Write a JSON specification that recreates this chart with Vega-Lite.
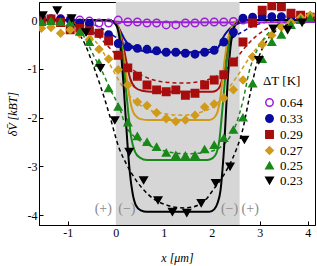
{
  "$schema": "https://vega.github.io/schema/vega-lite/v6.json",
  "width": 276,
  "height": 223,
  "autosize": {"type": "none"},
  "padding": {"left": 39, "top": 2, "right": 2, "bottom": 41},
  "background": "white",
  "config": {
    "view": {"stroke": "black", "strokeWidth": 1},
    "font": "Liberation Serif",
    "axis": {"grid": false, "domainColor": "black", "tickColor": "black", "labelColor": "black", "titleColor": "black", "labelFont": "Liberation Serif", "titleFont": "Liberation Serif", "labelFontSize": 12, "titleFontSize": 12, "titleFontWeight": "normal", "tickSize": -4, "labelPadding": 6},
    "legend": {"labelFont": "Liberation Serif", "titleFont": "Liberation Serif", "labelFontSize": 13, "titleFontSize": 13, "titleFontWeight": "normal", "labelColor": "black", "titleColor": "black"}
  },
  "datasets": {
    "band": [{"x0": 0, "x1": 2.58}],
    "pts": [
      {"s":"0.64","x":-1.15,"y":0.03},{"s":"0.64","x":-0.95,"y":0.02},{"s":"0.64","x":-0.75,"y":0.0},{"s":"0.64","x":-0.55,"y":-0.02},{"s":"0.64","x":-0.35,"y":-0.06},{"s":"0.64","x":-0.15,"y":-0.06},{"s":"0.64","x":0.05,"y":0.0},{"s":"0.64","x":0.25,"y":-0.04},{"s":"0.64","x":0.45,"y":-0.04},{"s":"0.64","x":0.65,"y":-0.06},{"s":"0.64","x":0.85,"y":-0.06},{"s":"0.64","x":1.05,"y":-0.1},{"s":"0.64","x":1.25,"y":-0.1},{"s":"0.64","x":1.45,"y":-0.06},{"s":"0.64","x":1.65,"y":-0.06},{"s":"0.64","x":1.85,"y":-0.04},{"s":"0.64","x":2.05,"y":-0.04},{"s":"0.64","x":2.25,"y":-0.04},{"s":"0.64","x":2.45,"y":-0.03},{"s":"0.64","x":2.65,"y":0.0},
      {"s":"0.33","x":-1.55,"y":0.05},{"s":"0.33","x":-1.35,"y":0.03},{"s":"0.33","x":-1.15,"y":0.02},{"s":"0.33","x":-0.95,"y":0.0},{"s":"0.33","x":-0.75,"y":-0.06},{"s":"0.33","x":-0.55,"y":-0.08},{"s":"0.33","x":-0.35,"y":-0.27},{"s":"0.33","x":-0.15,"y":-0.3},{"s":"0.33","x":0.05,"y":-0.48},{"s":"0.33","x":0.25,"y":-0.55},{"s":"0.33","x":0.45,"y":-0.58},{"s":"0.33","x":0.65,"y":-0.6},{"s":"0.33","x":0.85,"y":-0.63},{"s":"0.33","x":1.05,"y":-0.66},{"s":"0.33","x":1.25,"y":-0.66},{"s":"0.33","x":1.45,"y":-0.68},{"s":"0.33","x":1.65,"y":-0.7},{"s":"0.33","x":1.85,"y":-0.66},{"s":"0.33","x":2.05,"y":-0.62},{"s":"0.33","x":2.25,"y":-0.45},{"s":"0.33","x":2.45,"y":-0.25},{"s":"0.33","x":2.65,"y":0.04},{"s":"0.33","x":2.85,"y":0.06},{"s":"0.33","x":3.05,"y":0.07},{"s":"0.33","x":3.25,"y":0.07},{"s":"0.33","x":3.45,"y":0.07},{"s":"0.33","x":3.65,"y":0.06},{"s":"0.33","x":3.85,"y":0.05},{"s":"0.33","x":4.05,"y":0.05},
      {"s":"0.29","x":-1.55,"y":-0.02},{"s":"0.29","x":-1.35,"y":0.02},{"s":"0.29","x":-1.15,"y":-0.05},{"s":"0.29","x":-0.95,"y":-0.2},{"s":"0.29","x":-0.75,"y":-0.17},{"s":"0.29","x":-0.55,"y":-0.22},{"s":"0.29","x":-0.35,"y":-0.27},{"s":"0.29","x":-0.15,"y":-0.43},{"s":"0.29","x":0.05,"y":-0.72},{"s":"0.29","x":0.25,"y":-0.98},{"s":"0.29","x":0.45,"y":-1.15},{"s":"0.29","x":0.65,"y":-1.33},{"s":"0.29","x":0.85,"y":-1.43},{"s":"0.29","x":1.05,"y":-1.47},{"s":"0.29","x":1.25,"y":-1.43},{"s":"0.29","x":1.45,"y":-1.54},{"s":"0.29","x":1.65,"y":-1.5},{"s":"0.29","x":1.85,"y":-1.33},{"s":"0.29","x":2.05,"y":-1.23},{"s":"0.29","x":2.25,"y":-1.12},{"s":"0.29","x":2.45,"y":-0.86},{"s":"0.29","x":2.65,"y":-0.45},{"s":"0.29","x":2.85,"y":-0.06},{"s":"0.29","x":3.05,"y":0.2},{"s":"0.29","x":3.25,"y":0.29},{"s":"0.29","x":3.45,"y":0.27},{"s":"0.29","x":3.65,"y":0.14},{"s":"0.29","x":3.85,"y":0.1},{"s":"0.29","x":4.05,"y":0.06},
      {"s":"0.27","x":-1.55,"y":-0.17},{"s":"0.27","x":-1.35,"y":-0.15},{"s":"0.27","x":-1.15,"y":-0.27},{"s":"0.27","x":-0.95,"y":-0.2},{"s":"0.27","x":-0.75,"y":-0.28},{"s":"0.27","x":-0.55,"y":-0.4},{"s":"0.27","x":-0.35,"y":-0.6},{"s":"0.27","x":-0.15,"y":-0.8},{"s":"0.27","x":0.05,"y":-1.02},{"s":"0.27","x":0.25,"y":-1.33},{"s":"0.27","x":0.45,"y":-1.68},{"s":"0.27","x":0.65,"y":-1.75},{"s":"0.27","x":0.85,"y":-1.9},{"s":"0.27","x":1.05,"y":-2.02},{"s":"0.27","x":1.25,"y":-2.08},{"s":"0.27","x":1.45,"y":-2.05},{"s":"0.27","x":1.65,"y":-1.95},{"s":"0.27","x":1.85,"y":-1.78},{"s":"0.27","x":2.05,"y":-1.72},{"s":"0.27","x":2.25,"y":-1.6},{"s":"0.27","x":2.45,"y":-1.43},{"s":"0.27","x":2.65,"y":-1.23},{"s":"0.27","x":2.85,"y":-0.75},{"s":"0.27","x":3.05,"y":-0.5},{"s":"0.27","x":3.25,"y":-0.31},{"s":"0.27","x":3.45,"y":-0.14},{"s":"0.27","x":3.65,"y":-0.05},{"s":"0.27","x":3.85,"y":0.05},{"s":"0.27","x":4.05,"y":0.1},
      {"s":"0.25","x":-1.55,"y":-0.04},{"s":"0.25","x":-1.35,"y":-0.02},{"s":"0.25","x":-1.15,"y":-0.04},{"s":"0.25","x":-0.95,"y":-0.05},{"s":"0.25","x":-0.75,"y":-0.24},{"s":"0.25","x":-0.55,"y":-0.45},{"s":"0.25","x":-0.35,"y":-0.88},{"s":"0.25","x":-0.15,"y":-1.4},{"s":"0.25","x":0.05,"y":-1.78},{"s":"0.25","x":0.25,"y":-2.1},{"s":"0.25","x":0.45,"y":-2.38},{"s":"0.25","x":0.65,"y":-2.5},{"s":"0.25","x":0.85,"y":-2.6},{"s":"0.25","x":1.05,"y":-2.72},{"s":"0.25","x":1.25,"y":-2.77},{"s":"0.25","x":1.45,"y":-2.78},{"s":"0.25","x":1.65,"y":-2.77},{"s":"0.25","x":1.85,"y":-2.65},{"s":"0.25","x":2.05,"y":-2.56},{"s":"0.25","x":2.25,"y":-2.42},{"s":"0.25","x":2.45,"y":-2.25},{"s":"0.25","x":2.65,"y":-2.0},{"s":"0.25","x":2.85,"y":-1.3},{"s":"0.25","x":3.05,"y":-0.8},{"s":"0.25","x":3.25,"y":-0.45},{"s":"0.25","x":3.45,"y":-0.3},{"s":"0.25","x":3.65,"y":-0.1},{"s":"0.25","x":3.85,"y":0.0},{"s":"0.25","x":4.05,"y":0.04},
      {"s":"0.23","x":-1.52,"y":0.1},{"s":"0.23","x":-1.22,"y":0.2},{"s":"0.23","x":-0.92,"y":0.04},{"s":"0.23","x":-0.62,"y":-0.25},{"s":"0.23","x":-0.32,"y":-0.98},{"s":"0.23","x":-0.02,"y":-2.05},{"s":"0.23","x":0.28,"y":-2.7},{"s":"0.23","x":0.58,"y":-3.28},{"s":"0.23","x":0.88,"y":-3.69},{"s":"0.23","x":1.18,"y":-3.93},{"s":"0.23","x":1.48,"y":-3.95},{"s":"0.23","x":1.78,"y":-3.75},{"s":"0.23","x":2.08,"y":-3.34},{"s":"0.23","x":2.38,"y":-3.0},{"s":"0.23","x":2.68,"y":-2.45},{"s":"0.23","x":2.98,"y":-0.82},{"s":"0.23","x":3.28,"y":-0.17},{"s":"0.23","x":3.58,"y":-0.2},{"s":"0.23","x":3.88,"y":-0.05}
    ],
    "fit": [
      {"s":"0.33","x":-1.6,"y":0},{"s":"0.33","x":-0.8,"y":-0.01},{"s":"0.33","x":-0.5,"y":-0.08},{"s":"0.33","x":-0.2,"y":-0.22},{"s":"0.33","x":0.0,"y":-0.35},{"s":"0.33","x":0.2,"y":-0.47},{"s":"0.33","x":0.45,"y":-0.57},{"s":"0.33","x":0.8,"y":-0.64},{"s":"0.33","x":1.2,"y":-0.68},{"s":"0.33","x":1.6,"y":-0.67},{"s":"0.33","x":1.9,"y":-0.62},{"s":"0.33","x":2.2,"y":-0.5},{"s":"0.33","x":2.5,"y":-0.32},{"s":"0.33","x":2.8,"y":-0.15},{"s":"0.33","x":3.1,"y":-0.05},{"s":"0.33","x":3.4,"y":-0.01},{"s":"0.33","x":4.15,"y":0},
      {"s":"0.29","x":-1.6,"y":0},{"s":"0.29","x":-1.0,"y":-0.02},{"s":"0.29","x":-0.7,"y":-0.1},{"s":"0.29","x":-0.4,"y":-0.3},{"s":"0.29","x":-0.15,"y":-0.55},{"s":"0.29","x":0.1,"y":-0.8},{"s":"0.29","x":0.4,"y":-1.05},{"s":"0.29","x":0.7,"y":-1.2},{"s":"0.29","x":1.0,"y":-1.27},{"s":"0.29","x":1.4,"y":-1.29},{"s":"0.29","x":1.8,"y":-1.25},{"s":"0.29","x":2.1,"y":-1.15},{"s":"0.29","x":2.3,"y":-1.0},{"s":"0.29","x":2.5,"y":-0.8},{"s":"0.29","x":2.7,"y":-0.55},{"s":"0.29","x":2.9,"y":-0.35},{"s":"0.29","x":3.1,"y":-0.2},{"s":"0.29","x":3.4,"y":-0.08},{"s":"0.29","x":3.7,"y":-0.02},{"s":"0.29","x":4.15,"y":0},
      {"s":"0.27","x":-1.6,"y":0},{"s":"0.27","x":-1.1,"y":-0.02},{"s":"0.27","x":-0.8,"y":-0.1},{"s":"0.27","x":-0.55,"y":-0.3},{"s":"0.27","x":-0.3,"y":-0.6},{"s":"0.27","x":-0.1,"y":-0.95},{"s":"0.27","x":0.1,"y":-1.3},{"s":"0.27","x":0.35,"y":-1.62},{"s":"0.27","x":0.65,"y":-1.82},{"s":"0.27","x":1.0,"y":-1.92},{"s":"0.27","x":1.4,"y":-1.95},{"s":"0.27","x":1.8,"y":-1.88},{"s":"0.27","x":2.1,"y":-1.72},{"s":"0.27","x":2.35,"y":-1.4},{"s":"0.27","x":2.55,"y":-1.12},{"s":"0.27","x":2.8,"y":-0.75},{"s":"0.27","x":3.0,"y":-0.5},{"s":"0.27","x":3.3,"y":-0.22},{"s":"0.27","x":3.6,"y":-0.06},{"s":"0.27","x":3.9,"y":0},{"s":"0.27","x":4.15,"y":0},
      {"s":"0.25","x":-1.6,"y":0},{"s":"0.25","x":-1.0,"y":-0.03},{"s":"0.25","x":-0.8,"y":-0.15},{"s":"0.25","x":-0.6,"y":-0.45},{"s":"0.25","x":-0.45,"y":-0.75},{"s":"0.25","x":-0.3,"y":-1.02},{"s":"0.25","x":-0.1,"y":-1.45},{"s":"0.25","x":0.07,"y":-1.78},{"s":"0.25","x":0.2,"y":-2.15},{"s":"0.25","x":0.4,"y":-2.4},{"s":"0.25","x":0.65,"y":-2.55},{"s":"0.25","x":0.9,"y":-2.65},{"s":"0.25","x":1.2,"y":-2.72},{"s":"0.25","x":1.5,"y":-2.74},{"s":"0.25","x":1.8,"y":-2.72},{"s":"0.25","x":2.1,"y":-2.65},{"s":"0.25","x":2.3,"y":-2.5},{"s":"0.25","x":2.5,"y":-2.15},{"s":"0.25","x":2.65,"y":-1.65},{"s":"0.25","x":2.78,"y":-1.05},{"s":"0.25","x":2.95,"y":-0.6},{"s":"0.25","x":3.15,"y":-0.3},{"s":"0.25","x":3.4,"y":-0.1},{"s":"0.25","x":3.7,"y":-0.02},{"s":"0.25","x":4.15,"y":0},
      {"s":"0.23","x":-1.6,"y":0},{"s":"0.23","x":-1.05,"y":0},{"s":"0.23","x":-0.9,"y":-0.05},{"s":"0.23","x":-0.78,"y":-0.25},{"s":"0.23","x":-0.64,"y":-0.5},{"s":"0.23","x":-0.48,"y":-0.9},{"s":"0.23","x":-0.32,"y":-1.35},{"s":"0.23","x":-0.13,"y":-1.95},{"s":"0.23","x":0.06,"y":-2.6},{"s":"0.23","x":0.22,"y":-2.95},{"s":"0.23","x":0.42,"y":-3.28},{"s":"0.23","x":0.6,"y":-3.5},{"s":"0.23","x":0.78,"y":-3.66},{"s":"0.23","x":1.0,"y":-3.77},{"s":"0.23","x":1.2,"y":-3.83},{"s":"0.23","x":1.45,"y":-3.85},{"s":"0.23","x":1.7,"y":-3.8},{"s":"0.23","x":1.9,"y":-3.65},{"s":"0.23","x":2.05,"y":-3.45},{"s":"0.23","x":2.2,"y":-3.25},{"s":"0.23","x":2.35,"y":-3.0},{"s":"0.23","x":2.5,"y":-2.68},{"s":"0.23","x":2.63,"y":-2.3},{"s":"0.23","x":2.78,"y":-1.6},{"s":"0.23","x":2.95,"y":-0.85},{"s":"0.23","x":3.15,"y":-0.42},{"s":"0.23","x":3.36,"y":-0.2},{"s":"0.23","x":3.63,"y":-0.08},{"s":"0.23","x":3.9,"y":-0.02},{"s":"0.23","x":4.15,"y":0}
    ],
    "th": [
      {"s":"0.64","x":-1.6,"y":-0.01},{"s":"0.64","x":-0.2,"y":-0.02},{"s":"0.64","x":0.1,"y":-0.04},{"s":"0.64","x":2.4,"y":-0.05},{"s":"0.64","x":2.7,"y":-0.05},{"s":"0.64","x":4.15,"y":-0.04},
      {"s":"0.33","x":-1.6,"y":0},{"s":"0.33","x":-0.2,"y":0},{"s":"0.33","x":-0.05,"y":-0.05},{"s":"0.33","x":0.08,"y":-0.2},{"s":"0.33","x":0.2,"y":-0.42},{"s":"0.33","x":0.32,"y":-0.55},{"s":"0.33","x":0.5,"y":-0.62},{"s":"0.33","x":0.8,"y":-0.66},{"s":"0.33","x":1.95,"y":-0.66},{"s":"0.33","x":2.1,"y":-0.6},{"s":"0.33","x":2.18,"y":-0.48},{"s":"0.33","x":2.24,"y":-0.35},{"s":"0.33","x":2.35,"y":-0.2},{"s":"0.33","x":2.45,"y":-0.12},{"s":"0.33","x":2.6,"y":-0.05},{"s":"0.33","x":2.8,"y":0},{"s":"0.33","x":4.15,"y":0},
      {"s":"0.29","x":-1.6,"y":0},{"s":"0.29","x":-0.15,"y":0},{"s":"0.29","x":-0.05,"y":-0.03},{"s":"0.29","x":0.06,"y":-0.15},{"s":"0.29","x":0.14,"y":-0.45},{"s":"0.29","x":0.22,"y":-0.85},{"s":"0.29","x":0.3,"y":-1.2},{"s":"0.29","x":0.4,"y":-1.38},{"s":"0.29","x":0.55,"y":-1.45},{"s":"0.29","x":0.75,"y":-1.47},{"s":"0.29","x":2.0,"y":-1.47},{"s":"0.29","x":2.1,"y":-1.44},{"s":"0.29","x":2.17,"y":-1.36},{"s":"0.29","x":2.22,"y":-1.2},{"s":"0.29","x":2.27,"y":-0.9},{"s":"0.29","x":2.32,"y":-0.55},{"s":"0.29","x":2.38,"y":-0.25},{"s":"0.29","x":2.46,"y":-0.08},{"s":"0.29","x":2.58,"y":0},{"s":"0.29","x":4.15,"y":0},
      {"s":"0.27","x":-1.6,"y":0},{"s":"0.27","x":-0.15,"y":0},{"s":"0.27","x":-0.05,"y":-0.03},{"s":"0.27","x":0.05,"y":-0.15},{"s":"0.27","x":0.12,"y":-0.45},{"s":"0.27","x":0.18,"y":-0.85},{"s":"0.27","x":0.25,"y":-1.35},{"s":"0.27","x":0.32,"y":-1.75},{"s":"0.27","x":0.4,"y":-1.95},{"s":"0.27","x":0.52,"y":-2.03},{"s":"0.27","x":0.7,"y":-2.05},{"s":"0.27","x":1.95,"y":-2.05},{"s":"0.27","x":2.05,"y":-2.0},{"s":"0.27","x":2.12,"y":-1.88},{"s":"0.27","x":2.17,"y":-1.65},{"s":"0.27","x":2.22,"y":-1.25},{"s":"0.27","x":2.27,"y":-0.8},{"s":"0.27","x":2.33,"y":-0.42},{"s":"0.27","x":2.4,"y":-0.17},{"s":"0.27","x":2.5,"y":-0.04},{"s":"0.27","x":2.62,"y":0},{"s":"0.27","x":4.15,"y":0},
      {"s":"0.25","x":-1.6,"y":0},{"s":"0.25","x":-0.15,"y":0},{"s":"0.25","x":-0.05,"y":-0.03},{"s":"0.25","x":0.04,"y":-0.15},{"s":"0.25","x":0.1,"y":-0.4},{"s":"0.25","x":0.15,"y":-0.8},{"s":"0.25","x":0.2,"y":-1.3},{"s":"0.25","x":0.26,"y":-1.9},{"s":"0.25","x":0.32,"y":-2.4},{"s":"0.25","x":0.4,"y":-2.7},{"s":"0.25","x":0.5,"y":-2.82},{"s":"0.25","x":0.65,"y":-2.87},{"s":"0.25","x":1.9,"y":-2.87},{"s":"0.25","x":2.02,"y":-2.83},{"s":"0.25","x":2.1,"y":-2.72},{"s":"0.25","x":2.16,"y":-2.45},{"s":"0.25","x":2.2,"y":-2.05},{"s":"0.25","x":2.25,"y":-1.5},{"s":"0.25","x":2.3,"y":-0.95},{"s":"0.25","x":2.36,"y":-0.5},{"s":"0.25","x":2.43,"y":-0.2},{"s":"0.25","x":2.52,"y":-0.05},{"s":"0.25","x":2.65,"y":0},{"s":"0.25","x":4.15,"y":0},
      {"s":"0.23","x":-1.6,"y":0},{"s":"0.23","x":-0.15,"y":0},{"s":"0.23","x":-0.05,"y":-0.03},{"s":"0.23","x":0.03,"y":-0.15},{"s":"0.23","x":0.08,"y":-0.4},{"s":"0.23","x":0.12,"y":-0.8},{"s":"0.23","x":0.16,"y":-1.3},{"s":"0.23","x":0.2,"y":-1.9},{"s":"0.23","x":0.24,"y":-2.5},{"s":"0.23","x":0.29,"y":-3.1},{"s":"0.23","x":0.35,"y":-3.55},{"s":"0.23","x":0.42,"y":-3.8},{"s":"0.23","x":0.52,"y":-3.9},{"s":"0.23","x":0.65,"y":-3.93},{"s":"0.23","x":1.95,"y":-3.93},{"s":"0.23","x":2.05,"y":-3.88},{"s":"0.23","x":2.12,"y":-3.75},{"s":"0.23","x":2.18,"y":-3.5},{"s":"0.23","x":2.22,"y":-3.1},{"s":"0.23","x":2.26,"y":-2.55},{"s":"0.23","x":2.3,"y":-1.8},{"s":"0.23","x":2.34,"y":-1.1},{"s":"0.23","x":2.39,"y":-0.55},{"s":"0.23","x":2.45,"y":-0.2},{"s":"0.23","x":2.53,"y":-0.05},{"s":"0.23","x":2.65,"y":0},{"s":"0.23","x":4.15,"y":0}
    ],
    "notes": [
      {"x":-0.26,"y":-3.87,"t":"(+)"},{"x":0.23,"y":-3.87,"t":"(−)"},{"x":2.37,"y":-3.87,"t":"(−)"},{"x":2.8,"y":-3.87,"t":"(+)"}
    ]
  },
  "layer": [
    {
      "data": {"name": "band"},
      "mark": {"type": "rect", "color": "#d6d6d6"},
      "encoding": {
        "x": {"field": "x0", "type": "quantitative", "scale": {"domain": [-1.6, 4.15], "nice": false, "zero": false}, "axis": {"values": [-1, 0, 1, 2, 3, 4], "title": "x [μm]", "titleFontStyle": "italic", "labelExpr": "replace(datum.label, '−', '-')", "titlePadding": 14}},
        "x2": {"field": "x1"}
      }
    },
    {
      "data": {"name": "fit"},
      "mark": {"type": "line", "strokeDash": [4, 3], "strokeWidth": 1.5, "interpolate": "monotone", "clip": true},
      "encoding": {
        "x": {"field": "x", "type": "quantitative"},
        "y": {"field": "y", "type": "quantitative", "scale": {"domain": [-4.2, 0.37], "nice": false, "zero": false}, "axis": {"values": [0, -1, -2, -3, -4], "title": "δV̄ [kBT]", "titleFontStyle": "italic", "labelExpr": "replace(datum.label, '−', '-')", "titlePadding": 8}},
        "detail": {"field": "s"},
        "color": {"field": "s", "type": "nominal", "title": "ΔT [K]", "scale": {"domain": ["0.64","0.33","0.29","0.27","0.25","0.23"], "range": ["#9b1fd6","#0a0a9e","#a80d0d","#d09a1a","#1a881a","#000000"]}}
      }
    },
    {
      "data": {"name": "th"},
      "mark": {"type": "line", "strokeWidth": 2, "interpolate": "monotone", "clip": true},
      "encoding": {
        "x": {"field": "x", "type": "quantitative"},
        "y": {"field": "y", "type": "quantitative"},
        "detail": {"field": "s"},
        "color": {"field": "s", "type": "nominal", "title": "ΔT [K]"}
      }
    },
    {
      "data": {"name": "pts"},
      "mark": {"type": "point", "filled": false, "strokeWidth": 1.5, "size": 55, "opacity": 1, "clip": true},
      "encoding": {
        "x": {"field": "x", "type": "quantitative"},
        "y": {"field": "y", "type": "quantitative"},
        "color": {"field": "s", "type": "nominal", "title": "ΔT [K]", "legend": {"orient": "none", "legendX": 224, "legendY": 73, "rowPadding": 1, "titlePadding": 8, "symbolSize": 55, "symbolStrokeWidth": 1.5, "symbolType": "circle"}},
        "shape": {"field": "s", "type": "nominal", "title": "ΔT [K]", "scale": {"domain": ["0.64","0.33","0.29","0.27","0.25","0.23"], "range": ["circle","circle","square","diamond","triangle-up","triangle-down"]}},
        "fill": {"field": "s", "type": "nominal", "title": "ΔT [K]", "scale": {"domain": ["0.64","0.33","0.29","0.27","0.25","0.23"], "range": ["transparent","#0a0a9e","#a80d0d","#d09a1a","#1a881a","#000000"]}}
      }
    },
    {
      "data": {"name": "notes"},
      "mark": {"type": "text", "color": "#8a8a8a", "fontSize": 14, "font": "Liberation Serif"},
      "encoding": {
        "x": {"field": "x", "type": "quantitative"},
        "y": {"field": "y", "type": "quantitative"},
        "text": {"field": "t"}
      }
    }
  ]
}
